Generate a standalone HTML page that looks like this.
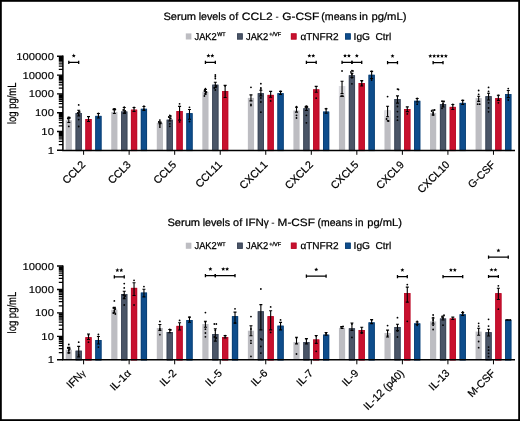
<!DOCTYPE html>
<html><head><meta charset="utf-8"><title>Serum levels</title>
<style>html,body{margin:0;padding:0;background:#fff;width:520px;height:421px;overflow:hidden}svg{display:block;will-change:transform;text-rendering:geometricPrecision;font-family:"Liberation Sans",sans-serif}</style>
</head><body>
<svg width="520" height="421" viewBox="0 0 520 421" font-family='"Liberation Sans", sans-serif'>
<rect x="0" y="0" width="520" height="421" fill="#fff"/>
<rect x="65.7" y="120.3" width="6.2" height="30" fill="#bdbdc2"/>
<rect x="75.6" y="113.1" width="6.2" height="37.2" fill="#4a5567"/>
<rect x="76" y="113.5" width="5.4" height="37.2" fill="none" stroke="#3a4456" stroke-width="0.8"/>
<rect x="85.4" y="119" width="6.2" height="31.3" fill="#c8102e"/>
<rect x="85.8" y="119.4" width="5.4" height="31.3" fill="none" stroke="#b80d29" stroke-width="0.8"/>
<rect x="95.3" y="115.9" width="6.2" height="34.4" fill="#0e4d8c"/>
<rect x="95.7" y="116.3" width="5.4" height="34.4" fill="none" stroke="#0a3f72" stroke-width="0.8"/>
<rect x="111.24" y="111.9" width="6.2" height="38.4" fill="#bdbdc2"/>
<rect x="121.14" y="111.5" width="6.2" height="38.8" fill="#4a5567"/>
<rect x="121.54" y="111.9" width="5.4" height="38.8" fill="none" stroke="#3a4456" stroke-width="0.8"/>
<rect x="130.94" y="109.7" width="6.2" height="40.6" fill="#c8102e"/>
<rect x="131.34" y="110.1" width="5.4" height="40.6" fill="none" stroke="#b80d29" stroke-width="0.8"/>
<rect x="140.84" y="108.8" width="6.2" height="41.5" fill="#0e4d8c"/>
<rect x="141.24" y="109.2" width="5.4" height="41.5" fill="none" stroke="#0a3f72" stroke-width="0.8"/>
<rect x="156.78" y="122.8" width="6.2" height="27.5" fill="#bdbdc2"/>
<rect x="166.68" y="119.7" width="6.2" height="30.6" fill="#4a5567"/>
<rect x="167.08" y="120.1" width="5.4" height="30.6" fill="none" stroke="#3a4456" stroke-width="0.8"/>
<rect x="176.48" y="111.1" width="6.2" height="39.2" fill="#c8102e"/>
<rect x="176.88" y="111.5" width="5.4" height="39.2" fill="none" stroke="#b80d29" stroke-width="0.8"/>
<rect x="186.38" y="113.2" width="6.2" height="37.1" fill="#0e4d8c"/>
<rect x="186.78" y="113.6" width="5.4" height="37.1" fill="none" stroke="#0a3f72" stroke-width="0.8"/>
<rect x="202.32" y="91.8" width="6.2" height="58.5" fill="#bdbdc2"/>
<rect x="212.22" y="84.7" width="6.2" height="65.6" fill="#4a5567"/>
<rect x="212.62" y="85.1" width="5.4" height="65.6" fill="none" stroke="#3a4456" stroke-width="0.8"/>
<rect x="222.02" y="91" width="6.2" height="59.3" fill="#c8102e"/>
<rect x="222.42" y="91.4" width="5.4" height="59.3" fill="none" stroke="#b80d29" stroke-width="0.8"/>
<rect x="247.86" y="97.9" width="6.2" height="52.4" fill="#bdbdc2"/>
<rect x="257.76" y="93.2" width="6.2" height="57.1" fill="#4a5567"/>
<rect x="258.16" y="93.6" width="5.4" height="57.1" fill="none" stroke="#3a4456" stroke-width="0.8"/>
<rect x="267.56" y="94.9" width="6.2" height="55.4" fill="#c8102e"/>
<rect x="267.96" y="95.3" width="5.4" height="55.4" fill="none" stroke="#b80d29" stroke-width="0.8"/>
<rect x="277.46" y="93.2" width="6.2" height="57.1" fill="#0e4d8c"/>
<rect x="277.86" y="93.6" width="5.4" height="57.1" fill="none" stroke="#0a3f72" stroke-width="0.8"/>
<rect x="293.4" y="110.5" width="6.2" height="39.8" fill="#bdbdc2"/>
<rect x="303.3" y="108.3" width="6.2" height="42" fill="#4a5567"/>
<rect x="303.7" y="108.7" width="5.4" height="42" fill="none" stroke="#3a4456" stroke-width="0.8"/>
<rect x="313.1" y="89.4" width="6.2" height="60.9" fill="#c8102e"/>
<rect x="313.5" y="89.8" width="5.4" height="60.9" fill="none" stroke="#b80d29" stroke-width="0.8"/>
<rect x="323" y="111.6" width="6.2" height="38.7" fill="#0e4d8c"/>
<rect x="323.4" y="112" width="5.4" height="38.7" fill="none" stroke="#0a3f72" stroke-width="0.8"/>
<rect x="338.94" y="86" width="6.2" height="64.3" fill="#bdbdc2"/>
<rect x="338.94" y="86" width="6.2" height="10" fill="#dcdce0"/>
<rect x="348.84" y="75.3" width="6.2" height="75" fill="#4a5567"/>
<rect x="349.24" y="75.7" width="5.4" height="75" fill="none" stroke="#3a4456" stroke-width="0.8"/>
<rect x="358.64" y="83" width="6.2" height="67.3" fill="#c8102e"/>
<rect x="359.04" y="83.4" width="5.4" height="67.3" fill="none" stroke="#b80d29" stroke-width="0.8"/>
<rect x="368.54" y="74.8" width="6.2" height="75.5" fill="#0e4d8c"/>
<rect x="368.94" y="75.2" width="5.4" height="75.5" fill="none" stroke="#0a3f72" stroke-width="0.8"/>
<rect x="384.48" y="110.5" width="6.2" height="39.8" fill="#bdbdc2"/>
<rect x="384.48" y="110.5" width="6.2" height="7" fill="#dcdce0"/>
<rect x="394.38" y="99.1" width="6.2" height="51.2" fill="#4a5567"/>
<rect x="394.78" y="99.5" width="5.4" height="51.2" fill="none" stroke="#3a4456" stroke-width="0.8"/>
<rect x="404.18" y="109" width="6.2" height="41.3" fill="#c8102e"/>
<rect x="404.58" y="109.4" width="5.4" height="41.3" fill="none" stroke="#b80d29" stroke-width="0.8"/>
<rect x="414.08" y="100.8" width="6.2" height="49.5" fill="#0e4d8c"/>
<rect x="414.48" y="101.2" width="5.4" height="49.5" fill="none" stroke="#0a3f72" stroke-width="0.8"/>
<rect x="430.02" y="112.9" width="6.2" height="37.4" fill="#bdbdc2"/>
<rect x="439.92" y="104.1" width="6.2" height="46.2" fill="#4a5567"/>
<rect x="440.32" y="104.5" width="5.4" height="46.2" fill="none" stroke="#3a4456" stroke-width="0.8"/>
<rect x="449.72" y="106.9" width="6.2" height="43.4" fill="#c8102e"/>
<rect x="450.12" y="107.3" width="5.4" height="43.4" fill="none" stroke="#b80d29" stroke-width="0.8"/>
<rect x="459.62" y="102.9" width="6.2" height="47.4" fill="#0e4d8c"/>
<rect x="460.02" y="103.3" width="5.4" height="47.4" fill="none" stroke="#0a3f72" stroke-width="0.8"/>
<rect x="475.56" y="98.1" width="6.2" height="52.2" fill="#bdbdc2"/>
<rect x="485.46" y="96.2" width="6.2" height="54.1" fill="#4a5567"/>
<rect x="485.86" y="96.6" width="5.4" height="54.1" fill="none" stroke="#3a4456" stroke-width="0.8"/>
<rect x="495.26" y="98.1" width="6.2" height="52.2" fill="#c8102e"/>
<rect x="495.66" y="98.5" width="5.4" height="52.2" fill="none" stroke="#b80d29" stroke-width="0.8"/>
<rect x="505.16" y="94.1" width="6.2" height="56.2" fill="#0e4d8c"/>
<rect x="505.56" y="94.5" width="5.4" height="56.2" fill="none" stroke="#0a3f72" stroke-width="0.8"/>
<path d="M68.8 117.3V122.5M67.3 117.3H70.3M67.3 122.5H70.3" stroke="#000" stroke-width="1.1" fill="none"/>
<circle cx="68.8" cy="117.5" r="0.9"/>
<circle cx="68.8" cy="126.4" r="0.9"/>
<circle cx="67.8" cy="118.5" r="0.9"/>
<circle cx="69.8" cy="118" r="0.9"/>
<path d="M78.7 110.2V116M77.2 110.2H80.2M77.2 116H80.2" stroke="#000" stroke-width="1.1" fill="none"/>
<circle cx="78.7" cy="104.9" r="0.9"/>
<circle cx="78.7" cy="119.6" r="0.9"/>
<circle cx="78.7" cy="126.5" r="0.9"/>
<circle cx="77.7" cy="113" r="0.9"/>
<circle cx="79.7" cy="112" r="0.9"/>
<circle cx="78.7" cy="115" r="0.9"/>
<path d="M88.5 116.5V121.5M87 116.5H90M87 121.5H90" stroke="#000" stroke-width="1.1" fill="none"/>
<circle cx="88.5" cy="117" r="0.9"/>
<path d="M98.4 113.5V118M96.9 113.5H99.9M96.9 118H99.9" stroke="#000" stroke-width="1.1" fill="none"/>
<circle cx="98.4" cy="113.5" r="0.9"/>
<path d="M114.34 109V113.5M112.84 109H115.84M112.84 113.5H115.84" stroke="#000" stroke-width="1.1" fill="none"/>
<circle cx="114.34" cy="108.8" r="0.9"/>
<circle cx="113.34" cy="109.5" r="0.9"/>
<circle cx="115.34" cy="109.5" r="0.9"/>
<path d="M124.24 107.5V113.5M122.74 107.5H125.74M122.74 113.5H125.74" stroke="#000" stroke-width="1.1" fill="none"/>
<circle cx="124.24" cy="107.1" r="0.9"/>
<circle cx="123.24" cy="110" r="0.9"/>
<circle cx="125.24" cy="111" r="0.9"/>
<circle cx="124.24" cy="113" r="0.9"/>
<circle cx="125.24" cy="113" r="0.9"/>
<path d="M134.04 107.5V111.5M132.54 107.5H135.54M132.54 111.5H135.54" stroke="#000" stroke-width="1.1" fill="none"/>
<circle cx="134.04" cy="107.5" r="0.9"/>
<path d="M143.94 106.5V110.5M142.44 106.5H145.44M142.44 110.5H145.44" stroke="#000" stroke-width="1.1" fill="none"/>
<circle cx="143.94" cy="106.2" r="0.9"/>
<circle cx="143.94" cy="109.5" r="0.9"/>
<path d="M159.88 121.9V123.7M158.38 121.9H161.38M158.38 123.7H161.38" stroke="#000" stroke-width="1.1" fill="none"/>
<circle cx="159.88" cy="120.1" r="0.9"/>
<circle cx="158.88" cy="122" r="0.9"/>
<circle cx="160.88" cy="123" r="0.9"/>
<circle cx="159.88" cy="125" r="0.9"/>
<circle cx="159.88" cy="127" r="0.9"/>
<path d="M169.78 117V121M168.28 117H171.28M168.28 121H171.28" stroke="#000" stroke-width="1.1" fill="none"/>
<circle cx="169.78" cy="115.3" r="0.9"/>
<circle cx="170.78" cy="116" r="0.9"/>
<circle cx="168.78" cy="117" r="0.9"/>
<circle cx="170.78" cy="118.4" r="0.9"/>
<circle cx="169.78" cy="123.8" r="0.9"/>
<circle cx="169.78" cy="126.3" r="0.9"/>
<path d="M179.58 106.4V120.1M178.08 106.4H181.08M178.08 120.1H181.08" stroke="#000" stroke-width="1.1" fill="none"/>
<circle cx="179.58" cy="103.8" r="0.9"/>
<circle cx="179.58" cy="121.9" r="0.9"/>
<path d="M189.48 109.5V119.2M187.98 109.5H190.98M187.98 119.2H190.98" stroke="#000" stroke-width="1.1" fill="none"/>
<circle cx="189.48" cy="107.3" r="0.9"/>
<circle cx="189.48" cy="121.5" r="0.9"/>
<path d="M205.42 89.5V94M203.92 89.5H206.92M203.92 94H206.92" stroke="#000" stroke-width="1.1" fill="none"/>
<circle cx="205.42" cy="88.6" r="0.9"/>
<circle cx="204.42" cy="91" r="0.9"/>
<circle cx="206.42" cy="92" r="0.9"/>
<circle cx="205.42" cy="94" r="0.9"/>
<circle cx="204.42" cy="96" r="0.9"/>
<path d="M215.32 82.3V87.5M213.82 82.3H216.82M213.82 87.5H216.82" stroke="#000" stroke-width="1.1" fill="none"/>
<circle cx="215.32" cy="75" r="0.9"/>
<circle cx="215.32" cy="76.7" r="0.9"/>
<circle cx="215.32" cy="78.5" r="0.9"/>
<circle cx="216.32" cy="86" r="0.9"/>
<circle cx="214.32" cy="88" r="0.9"/>
<circle cx="215.32" cy="90" r="0.9"/>
<path d="M225.12 85.4V97.5M223.62 85.4H226.62M223.62 97.5H226.62" stroke="#000" stroke-width="1.1" fill="none"/>
<circle cx="225.12" cy="85.9" r="0.9"/>
<path d="M250.96 94.9V100.9M249.46 94.9H252.46M249.46 100.9H252.46" stroke="#000" stroke-width="1.1" fill="none"/>
<circle cx="250.96" cy="87.3" r="0.9"/>
<circle cx="250.96" cy="105.6" r="0.9"/>
<circle cx="250.96" cy="104.5" r="0.9"/>
<path d="M260.86 90.2V96M259.36 90.2H262.36M259.36 96H262.36" stroke="#000" stroke-width="1.1" fill="none"/>
<circle cx="260.86" cy="83.7" r="0.9"/>
<circle cx="260.86" cy="87.8" r="0.9"/>
<circle cx="260.86" cy="89" r="0.9"/>
<circle cx="260.86" cy="102" r="0.9"/>
<circle cx="260.86" cy="112.2" r="0.9"/>
<circle cx="260.86" cy="95" r="0.9"/>
<circle cx="260.86" cy="98" r="0.9"/>
<path d="M270.66 91.4V97.3M269.16 91.4H272.16M269.16 97.3H272.16" stroke="#000" stroke-width="1.1" fill="none"/>
<circle cx="270.66" cy="100.9" r="0.9"/>
<path d="M280.56 91.4V94.5M279.06 91.4H282.06M279.06 94.5H282.06" stroke="#000" stroke-width="1.1" fill="none"/>
<circle cx="280.56" cy="91.4" r="0.9"/>
<path d="M296.5 107.3V112.1M295 107.3H298M295 112.1H298" stroke="#000" stroke-width="1.1" fill="none"/>
<circle cx="296.5" cy="106.7" r="0.9"/>
<circle cx="296.5" cy="115.3" r="0.9"/>
<circle cx="296.5" cy="118" r="0.9"/>
<path d="M306.4 106.2V110.5M304.9 106.2H307.9M304.9 110.5H307.9" stroke="#000" stroke-width="1.1" fill="none"/>
<circle cx="306.4" cy="106.2" r="0.9"/>
<circle cx="305.4" cy="107" r="0.9"/>
<circle cx="307.4" cy="107" r="0.9"/>
<circle cx="306.4" cy="115.3" r="0.9"/>
<circle cx="306.4" cy="122.8" r="0.9"/>
<path d="M316.2 86.4V92.3M314.7 86.4H317.7M314.7 92.3H317.7" stroke="#000" stroke-width="1.1" fill="none"/>
<circle cx="316.2" cy="98.2" r="0.9"/>
<path d="M326.1 108.7V113.2M324.6 108.7H327.6M324.6 113.2H327.6" stroke="#000" stroke-width="1.1" fill="none"/>
<circle cx="326.1" cy="108.7" r="0.9"/>
<path d="M342.04 81.2V93.6M340.54 81.2H343.54M340.54 93.6H343.54" stroke="#000" stroke-width="1.1" fill="none"/>
<circle cx="342.04" cy="71" r="0.9"/>
<circle cx="341.04" cy="96.2" r="0.9"/>
<circle cx="343.04" cy="96.2" r="0.9"/>
<circle cx="342.04" cy="96" r="0.9"/>
<path d="M351.94 73.3V77.5M350.44 73.3H353.44M350.44 77.5H353.44" stroke="#000" stroke-width="1.1" fill="none"/>
<circle cx="351.94" cy="70.6" r="0.9"/>
<circle cx="352.94" cy="71" r="0.9"/>
<circle cx="350.94" cy="72" r="0.9"/>
<circle cx="351.94" cy="74" r="0.9"/>
<circle cx="351.94" cy="77.8" r="0.9"/>
<circle cx="351.94" cy="83.8" r="0.9"/>
<path d="M361.74 80.6V86M360.24 80.6H363.24M360.24 86H363.24" stroke="#000" stroke-width="1.1" fill="none"/>
<circle cx="361.74" cy="81" r="0.9"/>
<circle cx="361.74" cy="85" r="0.9"/>
<path d="M371.64 71.4V78.5M370.14 71.4H373.14M370.14 78.5H373.14" stroke="#000" stroke-width="1.1" fill="none"/>
<circle cx="371.64" cy="71.4" r="0.9"/>
<circle cx="371.64" cy="80" r="0.9"/>
<path d="M387.58 106.2V116.8M386.08 106.2H389.08M386.08 116.8H389.08" stroke="#000" stroke-width="1.1" fill="none"/>
<circle cx="387.58" cy="96.6" r="0.9"/>
<circle cx="387.58" cy="120.8" r="0.9"/>
<circle cx="386.58" cy="119" r="0.9"/>
<circle cx="388.58" cy="121" r="0.9"/>
<path d="M397.48 95.9V103.1M395.98 95.9H398.98M395.98 103.1H398.98" stroke="#000" stroke-width="1.1" fill="none"/>
<circle cx="397.48" cy="89.1" r="0.9"/>
<circle cx="398.48" cy="89.5" r="0.9"/>
<circle cx="397.48" cy="106.5" r="0.9"/>
<circle cx="397.48" cy="111.6" r="0.9"/>
<circle cx="397.48" cy="116.8" r="0.9"/>
<circle cx="397.48" cy="120.2" r="0.9"/>
<path d="M407.28 106.9V111.6M405.78 106.9H408.78M405.78 111.6H408.78" stroke="#000" stroke-width="1.1" fill="none"/>
<circle cx="407.28" cy="113.9" r="0.9"/>
<path d="M417.18 98.5V102M415.68 98.5H418.68M415.68 102H418.68" stroke="#000" stroke-width="1.1" fill="none"/>
<circle cx="417.18" cy="98.5" r="0.9"/>
<circle cx="417.18" cy="104.2" r="0.9"/>
<path d="M433.12 110V115M431.62 110H434.62M431.62 115H434.62" stroke="#000" stroke-width="1.1" fill="none"/>
<circle cx="431.62" cy="111" r="0.9"/>
<circle cx="434.62" cy="110" r="0.9"/>
<circle cx="433.12" cy="113" r="0.9"/>
<circle cx="433.12" cy="115" r="0.9"/>
<path d="M443.02 101.2V107M441.52 101.2H444.52M441.52 107H444.52" stroke="#000" stroke-width="1.1" fill="none"/>
<circle cx="442.02" cy="101.2" r="0.9"/>
<circle cx="444.02" cy="101.5" r="0.9"/>
<circle cx="443.02" cy="104" r="0.9"/>
<circle cx="443.02" cy="106" r="0.9"/>
<circle cx="442.02" cy="108.3" r="0.9"/>
<path d="M452.82 104.5V109.5M451.32 104.5H454.32M451.32 109.5H454.32" stroke="#000" stroke-width="1.1" fill="none"/>
<circle cx="452.82" cy="104.5" r="0.9"/>
<path d="M462.72 100.4V104.5M461.22 100.4H464.22M461.22 104.5H464.22" stroke="#000" stroke-width="1.1" fill="none"/>
<circle cx="462.72" cy="100.4" r="0.9"/>
<path d="M478.66 96.3V101.4M477.16 96.3H480.16M477.16 101.4H480.16" stroke="#000" stroke-width="1.1" fill="none"/>
<circle cx="478.66" cy="90.5" r="0.9"/>
<circle cx="478.66" cy="94.3" r="0.9"/>
<circle cx="477.66" cy="104.2" r="0.9"/>
<circle cx="479.66" cy="104.2" r="0.9"/>
<path d="M488.56 93.3V100M487.06 93.3H490.06M487.06 100H490.06" stroke="#000" stroke-width="1.1" fill="none"/>
<circle cx="488.56" cy="87.4" r="0.9"/>
<circle cx="488.56" cy="91.4" r="0.9"/>
<circle cx="488.56" cy="102.8" r="0.9"/>
<circle cx="488.56" cy="108" r="0.9"/>
<circle cx="488.56" cy="111.8" r="0.9"/>
<path d="M498.36 95.2V100.4M496.86 95.2H499.86M496.86 100.4H499.86" stroke="#000" stroke-width="1.1" fill="none"/>
<circle cx="498.36" cy="95.5" r="0.9"/>
<circle cx="498.36" cy="102.8" r="0.9"/>
<path d="M508.26 90.5V97.6M506.76 90.5H509.76M506.76 97.6H509.76" stroke="#000" stroke-width="1.1" fill="none"/>
<circle cx="508.26" cy="88.6" r="0.9"/>
<circle cx="508.26" cy="100" r="0.9"/>
<path d="M68.8 62.3H78.7M68.8 60.7V63.9M78.7 60.7V63.9" stroke="#000" stroke-width="1.3" fill="none"/>
<polygon points="73.75,53.6 74.31,54.94 75.75,55.05 74.65,55.99 74.98,57.4 73.75,56.64 72.52,57.4 72.85,55.99 71.75,55.05 73.19,54.94"/>
<path d="M205.42 62.3H215.32M205.42 60.7V63.9M215.32 60.7V63.9" stroke="#000" stroke-width="1.3" fill="none"/>
<polygon points="208.42,53.6 208.98,54.94 210.42,55.05 209.32,55.99 209.65,57.4 208.42,56.64 207.19,57.4 207.52,55.99 206.42,55.05 207.86,54.94"/>
<polygon points="212.32,53.6 212.88,54.94 214.32,55.05 213.22,55.99 213.55,57.4 212.32,56.64 211.09,57.4 211.42,55.99 210.32,55.05 211.76,54.94"/>
<path d="M306.4 62.4H316.2M306.4 60.8V64M316.2 60.8V64" stroke="#000" stroke-width="1.3" fill="none"/>
<polygon points="309.35,53.7 309.91,55.04 311.35,55.15 310.25,56.09 310.58,57.5 309.35,56.74 308.12,57.5 308.45,56.09 307.35,55.15 308.79,55.04"/>
<polygon points="313.25,53.7 313.81,55.04 315.25,55.15 314.15,56.09 314.48,57.5 313.25,56.74 312.02,57.5 312.35,56.09 311.25,55.15 312.69,55.04"/>
<path d="M342.04 62.4H351.94M342.04 60.8V64M351.94 60.8V64" stroke="#000" stroke-width="1.3" fill="none"/>
<polygon points="345.04,53.7 345.6,55.04 347.04,55.15 345.94,56.09 346.27,57.5 345.04,56.74 343.81,57.5 344.14,56.09 343.04,55.15 344.48,55.04"/>
<polygon points="348.94,53.7 349.5,55.04 350.94,55.15 349.84,56.09 350.17,57.5 348.94,56.74 347.71,57.5 348.04,56.09 346.94,55.15 348.38,55.04"/>
<path d="M351.94 62.4H361.74M351.94 60.8V64M361.74 60.8V64" stroke="#000" stroke-width="1.3" fill="none"/>
<polygon points="356.84,53.7 357.4,55.04 358.84,55.15 357.74,56.09 358.07,57.5 356.84,56.74 355.61,57.5 355.94,56.09 354.84,55.15 356.28,55.04"/>
<path d="M387.58 62.6H397.48M387.58 61V64.2M397.48 61V64.2" stroke="#000" stroke-width="1.3" fill="none"/>
<polygon points="392.53,53.9 393.09,55.24 394.53,55.35 393.43,56.29 393.76,57.7 392.53,56.95 391.3,57.7 391.63,56.29 390.53,55.35 391.97,55.24"/>
<path d="M433.12 62.6H443.02M433.12 61V64.2M443.02 61V64.2" stroke="#000" stroke-width="1.3" fill="none"/>
<polygon points="430.27,53.9 430.83,55.24 432.27,55.35 431.17,56.29 431.5,57.7 430.27,56.95 429.04,57.7 429.37,56.29 428.27,55.35 429.71,55.24"/>
<polygon points="434.17,53.9 434.73,55.24 436.17,55.35 435.07,56.29 435.4,57.7 434.17,56.95 432.94,57.7 433.27,56.29 432.17,55.35 433.61,55.24"/>
<polygon points="438.07,53.9 438.63,55.24 440.07,55.35 438.97,56.29 439.3,57.7 438.07,56.95 436.84,57.7 437.17,56.29 436.07,55.35 437.51,55.24"/>
<polygon points="441.97,53.9 442.53,55.24 443.97,55.35 442.87,56.29 443.2,57.7 441.97,56.95 440.74,57.7 441.07,56.29 439.97,55.35 441.41,55.24"/>
<polygon points="445.87,53.9 446.43,55.24 447.87,55.35 446.77,56.29 447.1,57.7 445.87,56.95 444.64,57.7 444.97,56.29 443.87,55.35 445.31,55.24"/>
<path d="M62.9 55.6V150.5 H515" stroke="#000" stroke-width="1.5" fill="none"/>
<path d="M57 150.3H63M57 131.5H63M57 112.7H63M57 93.9H63M57 75.1H63M57 56.3H63" stroke="#000" stroke-width="1.4" fill="none"/>
<path d="M58.8 144.64H63M58.8 141.33H63M58.8 138.98H63M58.8 137.16H63M58.8 135.67H63M58.8 134.41H63M58.8 133.32H63M58.8 132.36H63M58.8 125.84H63M58.8 122.53H63M58.8 120.18H63M58.8 118.36H63M58.8 116.87H63M58.8 115.61H63M58.8 114.52H63M58.8 113.56H63M58.8 107.04H63M58.8 103.73H63M58.8 101.38H63M58.8 99.56H63M58.8 98.07H63M58.8 96.81H63M58.8 95.72H63M58.8 94.76H63M58.8 88.24H63M58.8 84.93H63M58.8 82.58H63M58.8 80.76H63M58.8 79.27H63M58.8 78.01H63M58.8 76.92H63M58.8 75.96H63M58.8 69.44H63M58.8 66.13H63M58.8 63.78H63M58.8 61.96H63M58.8 60.47H63M58.8 59.21H63M58.8 58.12H63M58.8 57.16H63" stroke="#000" stroke-width="1.25" fill="none"/>
<path d="M83.6 150.3V154.8M129.14 150.3V154.8M174.68 150.3V154.8M220.22 150.3V154.8M265.76 150.3V154.8M311.3 150.3V154.8M356.84 150.3V154.8M402.38 150.3V154.8M447.92 150.3V154.8M493.46 150.3V154.8" stroke="#000" stroke-width="1" fill="none"/>
<text x="0" y="0" transform="translate(53.9 153.8) scale(0.563 0.5)" text-anchor="end" font-size="20" stroke="#000" stroke-width="0.3">1</text>
<text x="0" y="0" transform="translate(53.9 135) scale(0.563 0.5)" text-anchor="end" font-size="20" stroke="#000" stroke-width="0.3">10</text>
<text x="0" y="0" transform="translate(53.9 116.2) scale(0.563 0.5)" text-anchor="end" font-size="20" stroke="#000" stroke-width="0.3">100</text>
<text x="0" y="0" transform="translate(53.9 97.4) scale(0.563 0.5)" text-anchor="end" font-size="20" stroke="#000" stroke-width="0.3">1000</text>
<text x="0" y="0" transform="translate(53.9 78.6) scale(0.563 0.5)" text-anchor="end" font-size="20" stroke="#000" stroke-width="0.3">10000</text>
<text x="0" y="0" transform="translate(53.9 59.8) scale(0.563 0.5)" text-anchor="end" font-size="20" stroke="#000" stroke-width="0.3">100000</text>
<text transform="translate(15.5 103.3) rotate(-90) scale(0.79 1)" text-anchor="middle" font-size="12" stroke="#000" stroke-width="0.22">log pg/mL</text>
<text transform="translate(86 165.3) rotate(-45) scale(1.0 1)" text-anchor="end" font-size="10.7" stroke="#000" stroke-width="0.2">CCL2</text>
<text transform="translate(131.54 165.3) rotate(-45) scale(1.0 1)" text-anchor="end" font-size="10.7" stroke="#000" stroke-width="0.2">CCL3</text>
<text transform="translate(177.08 165.3) rotate(-45) scale(1.0 1)" text-anchor="end" font-size="10.7" stroke="#000" stroke-width="0.2">CCL5</text>
<text transform="translate(222.62 165.3) rotate(-45) scale(1.0 1)" text-anchor="end" font-size="10.7" stroke="#000" stroke-width="0.2">CCL11</text>
<text transform="translate(268.16 165.3) rotate(-45) scale(1.0 1)" text-anchor="end" font-size="10.7" stroke="#000" stroke-width="0.2">CXCL1</text>
<text transform="translate(313.7 165.3) rotate(-45) scale(1.0 1)" text-anchor="end" font-size="10.7" stroke="#000" stroke-width="0.2">CXCL2</text>
<text transform="translate(359.24 165.3) rotate(-45) scale(1.0 1)" text-anchor="end" font-size="10.7" stroke="#000" stroke-width="0.2">CXCL5</text>
<text transform="translate(404.78 165.3) rotate(-45) scale(1.0 1)" text-anchor="end" font-size="10.7" stroke="#000" stroke-width="0.2">CXCL9</text>
<text transform="translate(450.32 165.3) rotate(-45) scale(1.0 1)" text-anchor="end" font-size="10.7" stroke="#000" stroke-width="0.2">CXCL10</text>
<text transform="translate(495.86 165.3) rotate(-45) scale(1.0 1)" text-anchor="end" font-size="10.7" stroke="#000" stroke-width="0.2">G-CSF</text>
<text transform="translate(163.43 20.1) scale(1.047 1)" font-size="10.6" stroke="#000" stroke-width="0.24">Serum</text>
<text transform="translate(198.63 20.1) scale(1.013 1)" font-size="10.6" stroke="#000" stroke-width="0.25">levels</text>
<text transform="translate(229.09 20.1) scale(1.026 1)" font-size="10.6" stroke="#000" stroke-width="0.24">of</text>
<text transform="translate(241.82 20.1) scale(1.136 1)" font-size="10.6" stroke="#000" stroke-width="0.22">CCL2</text>
<text transform="translate(275.49 20.1) scale(0.905 1)" font-size="10.6" stroke="#000" stroke-width="0.06">-</text>
<text transform="translate(282.23 20.1) scale(1.123 1)" font-size="10.6" stroke="#000" stroke-width="0.22">G-CSF</text>
<text transform="translate(321.29 20.1) scale(1.003 1)" font-size="10.6" stroke="#000" stroke-width="0.25">(means</text>
<text transform="translate(359.3 20.1) scale(1.052 1)" font-size="10.6" stroke="#000" stroke-width="0.24">in</text>
<text transform="translate(371.39 20.1) scale(1.063 1)" font-size="10.6" stroke="#000" stroke-width="0.24">pg/mL)</text>
<rect x="185.8" y="33.4" width="5.6" height="6.1" fill="#bdbdc2"/>
<rect x="237.1" y="33.4" width="5.6" height="6.1" fill="#4a5567"/>
<rect x="237.5" y="33.8" width="4.8" height="5.3" fill="none" stroke="#3a4456" stroke-width="0.8"/>
<rect x="290.9" y="33.4" width="5.6" height="6.1" fill="#c8102e"/>
<rect x="291.3" y="33.8" width="4.8" height="5.3" fill="none" stroke="#b80d29" stroke-width="0.8"/>
<rect x="345.1" y="33.4" width="5.6" height="6.1" fill="#0e4d8c"/>
<rect x="345.5" y="33.8" width="4.8" height="5.3" fill="none" stroke="#0a3f72" stroke-width="0.8"/>
<text transform="translate(194.49 39.7) scale(0.931 1)" font-size="10" stroke="#000" stroke-width="0.27">JAK2</text>
<text transform="translate(217.3 36.4) scale(0.954 1)" font-size="5.6" stroke="#000" stroke-width="0.26">WT</text>
<text transform="translate(245.99 39.7) scale(0.931 1)" font-size="10" stroke="#000" stroke-width="0.27">JAK2</text>
<text transform="translate(269.25 36.4) scale(0.997 1)" font-size="5.6" stroke="#000" stroke-width="0.25">+/VF</text>
<text transform="translate(300.42 39.7) scale(1.004 1)" font-size="10" stroke="#000" stroke-width="0.25">αTNFR2</text>
<text transform="translate(353.61 39.7) scale(1.021 1)" font-size="10" stroke="#000" stroke-width="0.24">IgG</text>
<text transform="translate(375.42 39.7) scale(1.017 1)" font-size="10" stroke="#000" stroke-width="0.25">Ctrl</text>
<rect x="65.7" y="349.7" width="6.2" height="10.1" fill="#bdbdc2"/>
<rect x="75.6" y="350.7" width="6.2" height="9.1" fill="#4a5567"/>
<rect x="76" y="351.1" width="5.4" height="9.1" fill="none" stroke="#3a4456" stroke-width="0.8"/>
<rect x="85.4" y="337.2" width="6.2" height="22.6" fill="#c8102e"/>
<rect x="85.8" y="337.6" width="5.4" height="22.6" fill="none" stroke="#b80d29" stroke-width="0.8"/>
<rect x="95.3" y="340" width="6.2" height="19.8" fill="#0e4d8c"/>
<rect x="95.7" y="340.4" width="5.4" height="19.8" fill="none" stroke="#0a3f72" stroke-width="0.8"/>
<rect x="111.24" y="309.7" width="6.2" height="50.1" fill="#bdbdc2"/>
<rect x="121.14" y="294.1" width="6.2" height="65.7" fill="#4a5567"/>
<rect x="121.54" y="294.5" width="5.4" height="65.7" fill="none" stroke="#3a4456" stroke-width="0.8"/>
<rect x="130.94" y="287.9" width="6.2" height="71.9" fill="#c8102e"/>
<rect x="131.34" y="288.3" width="5.4" height="71.9" fill="none" stroke="#b80d29" stroke-width="0.8"/>
<rect x="140.84" y="292.6" width="6.2" height="67.2" fill="#0e4d8c"/>
<rect x="141.24" y="293" width="5.4" height="67.2" fill="none" stroke="#0a3f72" stroke-width="0.8"/>
<rect x="156.78" y="328" width="6.2" height="31.8" fill="#bdbdc2"/>
<rect x="166.68" y="332.1" width="6.2" height="27.7" fill="#4a5567"/>
<rect x="167.08" y="332.5" width="5.4" height="27.7" fill="none" stroke="#3a4456" stroke-width="0.8"/>
<rect x="176.48" y="325.9" width="6.2" height="33.9" fill="#c8102e"/>
<rect x="176.88" y="326.3" width="5.4" height="33.9" fill="none" stroke="#b80d29" stroke-width="0.8"/>
<rect x="186.38" y="320" width="6.2" height="39.8" fill="#0e4d8c"/>
<rect x="186.78" y="320.4" width="5.4" height="39.8" fill="none" stroke="#0a3f72" stroke-width="0.8"/>
<rect x="202.32" y="324" width="6.2" height="35.8" fill="#bdbdc2"/>
<rect x="212.22" y="334" width="6.2" height="25.8" fill="#4a5567"/>
<rect x="212.62" y="334.4" width="5.4" height="25.8" fill="none" stroke="#3a4456" stroke-width="0.8"/>
<rect x="222.02" y="337.1" width="6.2" height="22.7" fill="#c8102e"/>
<rect x="222.42" y="337.5" width="5.4" height="22.7" fill="none" stroke="#b80d29" stroke-width="0.8"/>
<rect x="231.92" y="316.2" width="6.2" height="43.6" fill="#0e4d8c"/>
<rect x="232.32" y="316.6" width="5.4" height="43.6" fill="none" stroke="#0a3f72" stroke-width="0.8"/>
<rect x="247.86" y="330.7" width="6.2" height="29.1" fill="#bdbdc2"/>
<rect x="257.76" y="311.3" width="6.2" height="48.5" fill="#4a5567"/>
<rect x="258.16" y="311.7" width="5.4" height="48.5" fill="none" stroke="#3a4456" stroke-width="0.8"/>
<rect x="267.56" y="316.2" width="6.2" height="43.6" fill="#c8102e"/>
<rect x="267.96" y="316.6" width="5.4" height="43.6" fill="none" stroke="#b80d29" stroke-width="0.8"/>
<rect x="277.46" y="325.7" width="6.2" height="34.1" fill="#0e4d8c"/>
<rect x="277.86" y="326.1" width="5.4" height="34.1" fill="none" stroke="#0a3f72" stroke-width="0.8"/>
<rect x="293.4" y="342.1" width="6.2" height="17.7" fill="#bdbdc2"/>
<rect x="303.3" y="342.1" width="6.2" height="17.7" fill="#4a5567"/>
<rect x="303.7" y="342.5" width="5.4" height="17.7" fill="none" stroke="#3a4456" stroke-width="0.8"/>
<rect x="313.1" y="339.5" width="6.2" height="20.3" fill="#c8102e"/>
<rect x="313.5" y="339.9" width="5.4" height="20.3" fill="none" stroke="#b80d29" stroke-width="0.8"/>
<rect x="323" y="334.7" width="6.2" height="25.1" fill="#0e4d8c"/>
<rect x="323.4" y="335.1" width="5.4" height="25.1" fill="none" stroke="#0a3f72" stroke-width="0.8"/>
<rect x="338.94" y="327.9" width="6.2" height="31.9" fill="#bdbdc2"/>
<rect x="348.84" y="328.3" width="6.2" height="31.5" fill="#4a5567"/>
<rect x="349.24" y="328.7" width="5.4" height="31.5" fill="none" stroke="#3a4456" stroke-width="0.8"/>
<rect x="358.64" y="330" width="6.2" height="29.8" fill="#c8102e"/>
<rect x="359.04" y="330.4" width="5.4" height="29.8" fill="none" stroke="#b80d29" stroke-width="0.8"/>
<rect x="368.54" y="322.4" width="6.2" height="37.4" fill="#0e4d8c"/>
<rect x="368.94" y="322.8" width="5.4" height="37.4" fill="none" stroke="#0a3f72" stroke-width="0.8"/>
<rect x="384.48" y="333" width="6.2" height="26.8" fill="#bdbdc2"/>
<rect x="394.38" y="327" width="6.2" height="32.8" fill="#4a5567"/>
<rect x="394.78" y="327.4" width="5.4" height="32.8" fill="none" stroke="#3a4456" stroke-width="0.8"/>
<rect x="404.18" y="293.1" width="6.2" height="66.7" fill="#c8102e"/>
<rect x="404.58" y="293.5" width="5.4" height="66.7" fill="none" stroke="#b80d29" stroke-width="0.8"/>
<rect x="414.08" y="323.4" width="6.2" height="36.4" fill="#0e4d8c"/>
<rect x="414.48" y="323.8" width="5.4" height="36.4" fill="none" stroke="#0a3f72" stroke-width="0.8"/>
<rect x="430.02" y="321.4" width="6.2" height="38.4" fill="#bdbdc2"/>
<rect x="439.92" y="318.5" width="6.2" height="41.3" fill="#4a5567"/>
<rect x="440.32" y="318.9" width="5.4" height="41.3" fill="none" stroke="#3a4456" stroke-width="0.8"/>
<rect x="449.72" y="318.5" width="6.2" height="41.3" fill="#c8102e"/>
<rect x="450.12" y="318.9" width="5.4" height="41.3" fill="none" stroke="#b80d29" stroke-width="0.8"/>
<rect x="459.62" y="314.3" width="6.2" height="45.5" fill="#0e4d8c"/>
<rect x="460.02" y="314.7" width="5.4" height="45.5" fill="none" stroke="#0a3f72" stroke-width="0.8"/>
<rect x="475.56" y="331.6" width="6.2" height="28.2" fill="#bdbdc2"/>
<rect x="485.46" y="332.2" width="6.2" height="27.6" fill="#4a5567"/>
<rect x="485.86" y="332.6" width="5.4" height="27.6" fill="none" stroke="#3a4456" stroke-width="0.8"/>
<rect x="495.26" y="293.2" width="6.2" height="66.6" fill="#c8102e"/>
<rect x="495.66" y="293.6" width="5.4" height="66.6" fill="none" stroke="#b80d29" stroke-width="0.8"/>
<rect x="505.16" y="319.9" width="6.2" height="39.9" fill="#0e4d8c"/>
<rect x="505.56" y="320.3" width="5.4" height="39.9" fill="none" stroke="#0a3f72" stroke-width="0.8"/>
<path d="M68.8 347.4V352.9M67.3 347.4H70.3M67.3 352.9H70.3" stroke="#000" stroke-width="1.1" fill="none"/>
<circle cx="68.8" cy="344.5" r="0.9"/>
<circle cx="68.8" cy="350.4" r="0.9"/>
<circle cx="68.8" cy="352.9" r="0.9"/>
<circle cx="67.8" cy="348" r="0.9"/>
<circle cx="69.8" cy="349" r="0.9"/>
<path d="M78.7 346.4V356.9M77.2 346.4H80.2M77.2 356.9H80.2" stroke="#000" stroke-width="1.1" fill="none"/>
<circle cx="78.7" cy="342.2" r="0.9"/>
<circle cx="78.7" cy="355" r="0.9"/>
<path d="M88.5 334V339.5M87 334H90M87 339.5H90" stroke="#000" stroke-width="1.1" fill="none"/>
<circle cx="88.5" cy="342.2" r="0.9"/>
<circle cx="88.5" cy="335" r="0.9"/>
<path d="M98.4 336.5V344M96.9 336.5H99.9M96.9 344H99.9" stroke="#000" stroke-width="1.1" fill="none"/>
<circle cx="98.4" cy="334.5" r="0.9"/>
<circle cx="98.4" cy="347.1" r="0.9"/>
<path d="M114.34 307.4V313M112.84 307.4H115.84M112.84 313H115.84" stroke="#000" stroke-width="1.1" fill="none"/>
<circle cx="114.34" cy="300.9" r="0.9"/>
<circle cx="113.34" cy="308" r="0.9"/>
<circle cx="115.34" cy="309" r="0.9"/>
<circle cx="114.34" cy="311" r="0.9"/>
<circle cx="113.34" cy="313" r="0.9"/>
<circle cx="115.34" cy="314" r="0.9"/>
<path d="M124.24 291.2V298.8M122.74 291.2H125.74M122.74 298.8H125.74" stroke="#000" stroke-width="1.1" fill="none"/>
<circle cx="124.24" cy="283.6" r="0.9"/>
<circle cx="124.24" cy="287.9" r="0.9"/>
<circle cx="124.24" cy="305" r="0.9"/>
<circle cx="123.24" cy="295" r="0.9"/>
<circle cx="125.24" cy="296" r="0.9"/>
<circle cx="124.24" cy="298" r="0.9"/>
<path d="M134.04 282.7V295.5M132.54 282.7H135.54M132.54 295.5H135.54" stroke="#000" stroke-width="1.1" fill="none"/>
<circle cx="134.04" cy="280.3" r="0.9"/>
<circle cx="134.04" cy="305" r="0.9"/>
<path d="M143.94 289.3V296.9M142.44 289.3H145.44M142.44 296.9H145.44" stroke="#000" stroke-width="1.1" fill="none"/>
<circle cx="143.94" cy="286.6" r="0.9"/>
<path d="M159.88 324.5V330.4M158.38 324.5H161.38M158.38 330.4H161.38" stroke="#000" stroke-width="1.1" fill="none"/>
<circle cx="159.88" cy="321.4" r="0.9"/>
<circle cx="159.88" cy="334.7" r="0.9"/>
<circle cx="159.88" cy="329" r="0.9"/>
<path d="M169.78 329.5V332.8M168.28 329.5H171.28M168.28 332.8H171.28" stroke="#000" stroke-width="1.1" fill="none"/>
<circle cx="169.78" cy="329.5" r="0.9"/>
<circle cx="170.78" cy="330" r="0.9"/>
<path d="M179.58 322.8V330M178.08 322.8H181.08M178.08 330H181.08" stroke="#000" stroke-width="1.1" fill="none"/>
<circle cx="179.58" cy="320.4" r="0.9"/>
<path d="M189.48 317.1V322.3M187.98 317.1H190.98M187.98 322.3H190.98" stroke="#000" stroke-width="1.1" fill="none"/>
<circle cx="189.48" cy="317.5" r="0.9"/>
<path d="M205.42 321.3V327.3M203.92 321.3H206.92M203.92 327.3H206.92" stroke="#000" stroke-width="1.1" fill="none"/>
<circle cx="205.42" cy="312.6" r="0.9"/>
<circle cx="205.42" cy="329.2" r="0.9"/>
<circle cx="205.42" cy="333" r="0.9"/>
<circle cx="205.42" cy="336.8" r="0.9"/>
<circle cx="205.42" cy="322" r="0.9"/>
<path d="M215.32 328.8V341.1M213.82 328.8H216.82M213.82 341.1H216.82" stroke="#000" stroke-width="1.1" fill="none"/>
<circle cx="214.32" cy="324" r="0.9"/>
<circle cx="216.32" cy="324" r="0.9"/>
<circle cx="215.32" cy="330.2" r="0.9"/>
<circle cx="214.32" cy="337" r="0.9"/>
<circle cx="216.32" cy="338" r="0.9"/>
<path d="M225.12 335.6V338M223.62 335.6H226.62M223.62 338H226.62" stroke="#000" stroke-width="1.1" fill="none"/>
<circle cx="225.12" cy="335.6" r="0.9"/>
<path d="M235.02 312.1V323.1M233.52 312.1H236.52M233.52 323.1H236.52" stroke="#000" stroke-width="1.1" fill="none"/>
<circle cx="235.02" cy="308.8" r="0.9"/>
<circle cx="235.02" cy="323" r="0.9"/>
<path d="M250.96 325.7V335.7M249.46 325.7H252.46M249.46 335.7H252.46" stroke="#000" stroke-width="1.1" fill="none"/>
<circle cx="250.96" cy="316.6" r="0.9"/>
<circle cx="250.96" cy="340.7" r="0.9"/>
<circle cx="250.96" cy="343.2" r="0.9"/>
<circle cx="250.96" cy="356.4" r="0.9"/>
<circle cx="250.96" cy="329" r="0.9"/>
<path d="M260.86 304.6V329.9M259.36 304.6H262.36M259.36 329.9H262.36" stroke="#000" stroke-width="1.1" fill="none"/>
<circle cx="260.86" cy="289" r="0.9"/>
<circle cx="260.86" cy="339" r="0.9"/>
<circle cx="261.86" cy="339.8" r="0.9"/>
<circle cx="260.86" cy="346.5" r="0.9"/>
<circle cx="260.86" cy="353.1" r="0.9"/>
<path d="M270.66 310.8V329.9M269.16 310.8H272.16M269.16 329.9H272.16" stroke="#000" stroke-width="1.1" fill="none"/>
<circle cx="270.66" cy="306.9" r="0.9"/>
<circle cx="270.66" cy="332.4" r="0.9"/>
<path d="M280.56 322.4V329.9M279.06 322.4H282.06M279.06 329.9H282.06" stroke="#000" stroke-width="1.1" fill="none"/>
<circle cx="280.56" cy="319.9" r="0.9"/>
<path d="M296.5 337.3V343.9M295 337.3H298M295 343.9H298" stroke="#000" stroke-width="1.1" fill="none"/>
<circle cx="296.5" cy="354" r="0.9"/>
<circle cx="296.5" cy="338" r="0.9"/>
<path d="M306.4 338.6V343.9M304.9 338.6H307.9M304.9 343.9H307.9" stroke="#000" stroke-width="1.1" fill="none"/>
<circle cx="306.4" cy="339" r="0.9"/>
<path d="M316.2 335.5V343.4M314.7 335.5H317.7M314.7 343.4H317.7" stroke="#000" stroke-width="1.1" fill="none"/>
<circle cx="316.2" cy="351.3" r="0.9"/>
<circle cx="316.2" cy="336" r="0.9"/>
<path d="M326.1 332.5V335.1M324.6 332.5H327.6M324.6 335.1H327.6" stroke="#000" stroke-width="1.1" fill="none"/>
<circle cx="326.1" cy="333.5" r="0.9"/>
<path d="M342.04 326.5V328.5M340.54 326.5H343.54M340.54 328.5H343.54" stroke="#000" stroke-width="1.1" fill="none"/>
<circle cx="341.04" cy="327" r="0.9"/>
<circle cx="343.04" cy="326.5" r="0.9"/>
<path d="M351.94 323V330.4M350.44 323H353.44M350.44 330.4H353.44" stroke="#000" stroke-width="1.1" fill="none"/>
<circle cx="351.94" cy="337.4" r="0.9"/>
<circle cx="351.94" cy="324" r="0.9"/>
<path d="M361.74 327.3V332.9M360.24 327.3H363.24M360.24 332.9H363.24" stroke="#000" stroke-width="1.1" fill="none"/>
<circle cx="361.74" cy="333" r="0.9"/>
<path d="M371.64 319.6V323.6M370.14 319.6H373.14M370.14 323.6H373.14" stroke="#000" stroke-width="1.1" fill="none"/>
<circle cx="371.64" cy="320" r="0.9"/>
<path d="M387.58 330.1V337M386.08 330.1H389.08M386.08 337H389.08" stroke="#000" stroke-width="1.1" fill="none"/>
<circle cx="387.58" cy="325.6" r="0.9"/>
<circle cx="387.58" cy="335.6" r="0.9"/>
<path d="M397.48 324.2V330.6M395.98 324.2H398.98M395.98 330.6H398.98" stroke="#000" stroke-width="1.1" fill="none"/>
<circle cx="397.48" cy="317.7" r="0.9"/>
<circle cx="397.48" cy="337" r="0.9"/>
<circle cx="397.48" cy="331" r="0.9"/>
<path d="M407.28 287.1V302.1M405.78 287.1H408.78M405.78 302.1H408.78" stroke="#000" stroke-width="1.1" fill="none"/>
<circle cx="407.28" cy="284.6" r="0.9"/>
<circle cx="407.28" cy="321.3" r="0.9"/>
<path d="M417.18 322V324.5M415.68 322H418.68M415.68 324.5H418.68" stroke="#000" stroke-width="1.1" fill="none"/>
<circle cx="417.18" cy="321.3" r="0.9"/>
<circle cx="417.18" cy="325.3" r="0.9"/>
<path d="M433.12 318V324M431.62 318H434.62M431.62 324H434.62" stroke="#000" stroke-width="1.1" fill="none"/>
<circle cx="433.12" cy="315" r="0.9"/>
<circle cx="433.12" cy="317.6" r="0.9"/>
<circle cx="433.12" cy="320" r="0.9"/>
<circle cx="433.12" cy="322.8" r="0.9"/>
<circle cx="433.12" cy="325.2" r="0.9"/>
<circle cx="433.12" cy="329.5" r="0.9"/>
<path d="M443.02 316V320M441.52 316H444.52M441.52 320H444.52" stroke="#000" stroke-width="1.1" fill="none"/>
<circle cx="444.02" cy="315.2" r="0.9"/>
<circle cx="442.02" cy="317" r="0.9"/>
<circle cx="443.02" cy="318" r="0.9"/>
<circle cx="443.02" cy="325.2" r="0.9"/>
<path d="M452.82 317.1V319.5M451.32 317.1H454.32M451.32 319.5H454.32" stroke="#000" stroke-width="1.1" fill="none"/>
<path d="M462.72 312.5V315.5M461.22 312.5H464.22M461.22 315.5H464.22" stroke="#000" stroke-width="1.1" fill="none"/>
<circle cx="462.72" cy="311.9" r="0.9"/>
<circle cx="462.72" cy="313.3" r="0.9"/>
<path d="M478.66 328.3V335.3M477.16 328.3H480.16M477.16 335.3H480.16" stroke="#000" stroke-width="1.1" fill="none"/>
<circle cx="478.66" cy="323.3" r="0.9"/>
<circle cx="478.66" cy="326.1" r="0.9"/>
<circle cx="478.66" cy="341.5" r="0.9"/>
<circle cx="478.66" cy="347.7" r="0.9"/>
<path d="M488.56 329.2V336M487.06 329.2H490.06M487.06 336H490.06" stroke="#000" stroke-width="1.1" fill="none"/>
<circle cx="488.56" cy="319.3" r="0.9"/>
<circle cx="488.56" cy="326.1" r="0.9"/>
<circle cx="488.56" cy="347.1" r="0.9"/>
<circle cx="488.56" cy="350.2" r="0.9"/>
<circle cx="488.56" cy="353.3" r="0.9"/>
<circle cx="488.56" cy="356.7" r="0.9"/>
<path d="M498.36 288.2V299.5M496.86 288.2H499.86M496.86 299.5H499.86" stroke="#000" stroke-width="1.1" fill="none"/>
<circle cx="498.36" cy="285.8" r="0.9"/>
<circle cx="498.36" cy="309.2" r="0.9"/>
<circle cx="506.16" cy="319.9" r="0.9"/>
<circle cx="507.56" cy="319.9" r="0.9"/>
<circle cx="508.96" cy="319.9" r="0.9"/>
<circle cx="510.36" cy="319.9" r="0.9"/>
<path d="M114.34 276.8H124.24M114.34 275.2V278.4M124.24 275.2V278.4" stroke="#000" stroke-width="1.3" fill="none"/>
<polygon points="117.34,268.1 117.9,269.44 119.34,269.55 118.24,270.49 118.57,271.9 117.34,271.14 116.11,271.9 116.44,270.49 115.34,269.55 116.78,269.44"/>
<polygon points="121.24,268.1 121.8,269.44 123.24,269.55 122.14,270.49 122.47,271.9 121.24,271.14 120.01,271.9 120.34,270.49 119.24,269.55 120.68,269.44"/>
<path d="M205.42 275.7H215.32M205.42 274.1V277.3M215.32 274.1V277.3" stroke="#000" stroke-width="1.3" fill="none"/>
<polygon points="210.37,267 210.93,268.34 212.37,268.45 211.27,269.39 211.6,270.8 210.37,270.04 209.14,270.8 209.47,269.39 208.37,268.45 209.81,268.34"/>
<path d="M215.32 275.7H235.02M215.32 274.1V277.3M235.02 274.1V277.3" stroke="#000" stroke-width="1.3" fill="none"/>
<polygon points="223.22,267 223.78,268.34 225.22,268.45 224.12,269.39 224.45,270.8 223.22,270.04 221.99,270.8 222.32,269.39 221.22,268.45 222.66,268.34"/>
<polygon points="227.12,267 227.68,268.34 229.12,268.45 228.02,269.39 228.35,270.8 227.12,270.04 225.89,270.8 226.22,269.39 225.12,268.45 226.56,268.34"/>
<path d="M306.4 276.2H326.1M306.4 274.6V277.8M326.1 274.6V277.8" stroke="#000" stroke-width="1.3" fill="none"/>
<polygon points="316.25,267.5 316.81,268.84 318.25,268.95 317.15,269.89 317.48,271.3 316.25,270.54 315.02,271.3 315.35,269.89 314.25,268.95 315.69,268.84"/>
<path d="M397.48 276.6H407.28M397.48 275V278.2M407.28 275V278.2" stroke="#000" stroke-width="1.3" fill="none"/>
<polygon points="402.38,267.9 402.94,269.24 404.38,269.35 403.28,270.29 403.61,271.7 402.38,270.94 401.15,271.7 401.48,270.29 400.38,269.35 401.82,269.24"/>
<path d="M443.02 276.6H462.72M443.02 275V278.2M462.72 275V278.2" stroke="#000" stroke-width="1.3" fill="none"/>
<polygon points="450.92,267.9 451.48,269.24 452.92,269.35 451.82,270.29 452.15,271.7 450.92,270.94 449.69,271.7 450.02,270.29 448.92,269.35 450.36,269.24"/>
<polygon points="454.82,267.9 455.38,269.24 456.82,269.35 455.72,270.29 456.05,271.7 454.82,270.94 453.59,271.7 453.92,270.29 452.82,269.35 454.26,269.24"/>
<path d="M488.56 276.5H498.36M488.56 274.9V278.1M498.36 274.9V278.1" stroke="#000" stroke-width="1.3" fill="none"/>
<polygon points="491.51,267.8 492.07,269.14 493.51,269.25 492.41,270.19 492.74,271.6 491.51,270.84 490.28,271.6 490.61,270.19 489.51,269.25 490.95,269.14"/>
<polygon points="495.41,267.8 495.97,269.14 497.41,269.25 496.31,270.19 496.64,271.6 495.41,270.84 494.18,271.6 494.51,270.19 493.41,269.25 494.85,269.14"/>
<path d="M488.56 257.1H508.26M488.56 255.5V258.7M508.26 255.5V258.7" stroke="#000" stroke-width="1.3" fill="none"/>
<polygon points="498.41,248.4 498.97,249.74 500.41,249.85 499.31,250.79 499.64,252.2 498.41,251.45 497.18,252.2 497.51,250.79 496.41,249.85 497.85,249.74"/>
<path d="M62.9 265.6V359.8 H515" stroke="#000" stroke-width="1.5" fill="none"/>
<path d="M57 359.8H63M57 336.35H63M57 312.9H63M57 289.45H63M57 266H63" stroke="#000" stroke-width="1.4" fill="none"/>
<path d="M58.8 352.74H63M58.8 348.61H63M58.8 345.68H63M58.8 343.41H63M58.8 341.55H63M58.8 339.98H63M58.8 338.62H63M58.8 337.42H63M58.8 329.29H63M58.8 325.16H63M58.8 322.23H63M58.8 319.96H63M58.8 318.1H63M58.8 316.53H63M58.8 315.17H63M58.8 313.97H63M58.8 305.84H63M58.8 301.71H63M58.8 298.78H63M58.8 296.51H63M58.8 294.65H63M58.8 293.08H63M58.8 291.72H63M58.8 290.52H63M58.8 282.39H63M58.8 278.26H63M58.8 275.33H63M58.8 273.06H63M58.8 271.2H63M58.8 269.63H63M58.8 268.27H63M58.8 267.07H63" stroke="#000" stroke-width="1.25" fill="none"/>
<path d="M83.6 359.8V364.3M129.14 359.8V364.3M174.68 359.8V364.3M220.22 359.8V364.3M265.76 359.8V364.3M311.3 359.8V364.3M356.84 359.8V364.3M402.38 359.8V364.3M447.92 359.8V364.3M493.46 359.8V364.3" stroke="#000" stroke-width="1" fill="none"/>
<text x="0" y="0" transform="translate(53.9 363.3) scale(0.563 0.5)" text-anchor="end" font-size="20" stroke="#000" stroke-width="0.3">1</text>
<text x="0" y="0" transform="translate(53.9 339.85) scale(0.563 0.5)" text-anchor="end" font-size="20" stroke="#000" stroke-width="0.3">10</text>
<text x="0" y="0" transform="translate(53.9 316.4) scale(0.563 0.5)" text-anchor="end" font-size="20" stroke="#000" stroke-width="0.3">100</text>
<text x="0" y="0" transform="translate(53.9 292.95) scale(0.563 0.5)" text-anchor="end" font-size="20" stroke="#000" stroke-width="0.3">1000</text>
<text x="0" y="0" transform="translate(53.9 269.5) scale(0.563 0.5)" text-anchor="end" font-size="20" stroke="#000" stroke-width="0.3">10000</text>
<text transform="translate(15.5 312.6) rotate(-90) scale(0.79 1)" text-anchor="middle" font-size="12" stroke="#000" stroke-width="0.22">log pg/mL</text>
<text transform="translate(86 373.9) rotate(-45) scale(1.0 1)" text-anchor="end" font-size="10.7" stroke="#000" stroke-width="0.2">IFN<tspan font-size="8.6">γ</tspan></text>
<text transform="translate(131.54 373.9) rotate(-45) scale(1.0 1)" text-anchor="end" font-size="10.7" stroke="#000" stroke-width="0.2">IL-1α</text>
<text transform="translate(177.08 373.9) rotate(-45) scale(1.0 1)" text-anchor="end" font-size="10.7" stroke="#000" stroke-width="0.2">IL-2</text>
<text transform="translate(222.62 373.9) rotate(-45) scale(1.0 1)" text-anchor="end" font-size="10.7" stroke="#000" stroke-width="0.2">IL-5</text>
<text transform="translate(268.16 373.9) rotate(-45) scale(1.0 1)" text-anchor="end" font-size="10.7" stroke="#000" stroke-width="0.2">IL-6</text>
<text transform="translate(313.7 373.9) rotate(-45) scale(1.0 1)" text-anchor="end" font-size="10.7" stroke="#000" stroke-width="0.2">IL-7</text>
<text transform="translate(359.24 373.9) rotate(-45) scale(1.0 1)" text-anchor="end" font-size="10.7" stroke="#000" stroke-width="0.2">IL-9</text>
<text transform="translate(404.78 373.9) rotate(-45) scale(1.0 1)" text-anchor="end" font-size="10.7" stroke="#000" stroke-width="0.2">IL-12 (p40)</text>
<text transform="translate(450.32 373.9) rotate(-45) scale(1.0 1)" text-anchor="end" font-size="10.7" stroke="#000" stroke-width="0.2">IL-13</text>
<text transform="translate(495.86 373.9) rotate(-45) scale(1.0 1)" text-anchor="end" font-size="10.7" stroke="#000" stroke-width="0.2">M-CSF</text>
<text transform="translate(167.43 226.3) scale(1.047 1)" font-size="10.6" stroke="#000" stroke-width="0.24">Serum</text>
<text transform="translate(202.63 226.3) scale(1.013 1)" font-size="10.6" stroke="#000" stroke-width="0.25">levels</text>
<text transform="translate(233.09 226.3) scale(1.026 1)" font-size="10.6" stroke="#000" stroke-width="0.24">of</text>
<text transform="translate(245.18 226.3) scale(1.091 1)" font-size="10.6" stroke="#000" stroke-width="0.23">IFN</text>
<text transform="translate(263.68 226.3) scale(0.934 1)" font-size="10.6" stroke="#000" stroke-width="0.27">γ</text>
<text transform="translate(271.18 226.3) scale(0.943 1)" font-size="10.6" stroke="#000" stroke-width="0.05">-</text>
<text transform="translate(277.58 226.3) scale(1.111 1)" font-size="10.6" stroke="#000" stroke-width="0.23">M-CSF</text>
<text transform="translate(317.6 226.3) scale(0.986 1)" font-size="10.6" stroke="#000" stroke-width="0.25">(means</text>
<text transform="translate(355.35 226.3) scale(0.980 1)" font-size="10.6" stroke="#000" stroke-width="0.26">in</text>
<text transform="translate(367.2 226.3) scale(1.051 1)" font-size="10.6" stroke="#000" stroke-width="0.24">pg/mL)</text>
<rect x="185.8" y="242.7" width="5.6" height="6.1" fill="#bdbdc2"/>
<rect x="237.1" y="242.7" width="5.6" height="6.1" fill="#4a5567"/>
<rect x="237.5" y="243.1" width="4.8" height="5.3" fill="none" stroke="#3a4456" stroke-width="0.8"/>
<rect x="290.9" y="242.7" width="5.6" height="6.1" fill="#c8102e"/>
<rect x="291.3" y="243.1" width="4.8" height="5.3" fill="none" stroke="#b80d29" stroke-width="0.8"/>
<rect x="345.1" y="242.7" width="5.6" height="6.1" fill="#0e4d8c"/>
<rect x="345.5" y="243.1" width="4.8" height="5.3" fill="none" stroke="#0a3f72" stroke-width="0.8"/>
<text transform="translate(194.49 249) scale(0.931 1)" font-size="10" stroke="#000" stroke-width="0.27">JAK2</text>
<text transform="translate(217.3 245.7) scale(0.954 1)" font-size="5.6" stroke="#000" stroke-width="0.26">WT</text>
<text transform="translate(245.99 249) scale(0.931 1)" font-size="10" stroke="#000" stroke-width="0.27">JAK2</text>
<text transform="translate(269.25 245.7) scale(0.997 1)" font-size="5.6" stroke="#000" stroke-width="0.25">+/VF</text>
<text transform="translate(300.42 249) scale(1.004 1)" font-size="10" stroke="#000" stroke-width="0.25">αTNFR2</text>
<text transform="translate(353.61 249) scale(1.021 1)" font-size="10" stroke="#000" stroke-width="0.24">IgG</text>
<text transform="translate(375.42 249) scale(1.017 1)" font-size="10" stroke="#000" stroke-width="0.25">Ctrl</text>
<rect x="0.9" y="0.9" width="518.2" height="419.2" fill="none" stroke="#000" stroke-width="1.8"/>
</svg>
</body></html>
